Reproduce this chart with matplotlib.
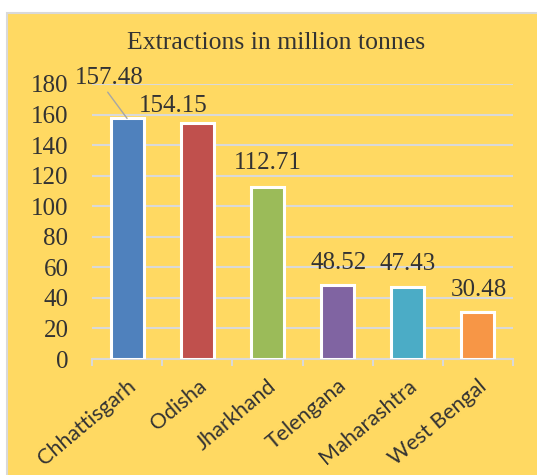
import matplotlib
matplotlib.use('Agg')
import matplotlib.pyplot as plt
from matplotlib.patches import Rectangle

# Coal extraction by state (million tonnes)
states = ['Chhattisgarh', 'Odisha', 'Jharkhand', 'Telengana', 'Maharashtra', 'West Bengal']
extraction = [157.48, 154.15, 112.71, 48.52, 47.43, 30.48]
bar_colors = ['#4F81BD', '#C0504D', '#9BBB59', '#8064A2', '#4BACC6', '#F79646']
y_ticks = [0, 20, 40, 60, 80, 100, 120, 140, 160, 180]

# label offsets from the top of each bar, in pixels
label_offsets = [(-18, 40), (-24, 17), (0, 24), (1, 22), (0, 23), (1, 22)]

bg = '#FFD962'
grid_c = '#D9D9D9'
text_c = '#333333'
serif = 'Liberation Serif'

fig = plt.figure(figsize=(5.37, 4.75), dpi=100)
fig.patch.set_facecolor('white')
fig.add_artist(Rectangle((7.5 / 537, -0.05), 1.0, 1.05 - 13.5 / 475,
                         transform=fig.transFigure, facecolor=bg,
                         edgecolor=grid_c, linewidth=1.5, zorder=-10))

ax = fig.add_axes([92 / 537, 116 / 475, 421 / 537, 275 / 475])
ax.set_facecolor('none')

x = list(range(len(states)))
ax.bar(x, extraction, width=0.47, color=bar_colors, edgecolor='white',
       linewidth=2.2, zorder=3)

ax.set_xlim(-0.5, len(states) - 0.5)
ax.set_ylim(0, 180)
ax.set_yticks(y_ticks)
ax.yaxis.grid(True, color=grid_c, linewidth=1.5, zorder=0)
ax.set_axisbelow(True)

for s in ['top', 'right', 'left']:
    ax.spines[s].set_visible(False)
ax.spines['bottom'].set_color(grid_c)
ax.spines['bottom'].set_linewidth(1.5)

ax.tick_params(axis='y', length=0, pad=17, labelsize=18, labelcolor=text_c)
for lab in ax.get_yticklabels():
    lab.set_fontfamily(serif)

ax.set_xticks(x)
ax.set_xticklabels(states, rotation=40, ha='right', rotation_mode='anchor',
                   fontfamily='Lato', fontsize=15.5, color=text_c)
ax.tick_params(axis='x', length=0, pad=12)
ax.set_xticks([i - 0.5 for i in range(len(states) + 1)], minor=True)
ax.tick_params(axis='x', which='minor', length=5, width=1.5, color=grid_c)

for i, (v, (dx, dy)) in enumerate(zip(extraction, label_offsets)):
    if i == 0:
        ax.annotate(f'{v:.2f}', xy=(i, v), xytext=(dx, dy),
                    textcoords='offset pixels', ha='center', va='center',
                    fontsize=18, fontfamily=serif, color=text_c,
                    arrowprops=dict(arrowstyle='-', color='#A6A6A6', lw=1,
                                    shrinkA=0, shrinkB=0, relpos=(0.45, 0)))
    else:
        ax.annotate(f'{v:.2f}', xy=(i, v), xytext=(dx, dy),
                    textcoords='offset pixels', ha='center', va='center',
                    fontsize=18, fontfamily=serif, color=text_c)

fig.text(276 / 537, 1 - 43 / 475, 'Extractions in million tonnes',
         ha='center', va='center', fontsize=18.5, fontfamily=serif, color=text_c)

plt.savefig('out.png', dpi=100)
